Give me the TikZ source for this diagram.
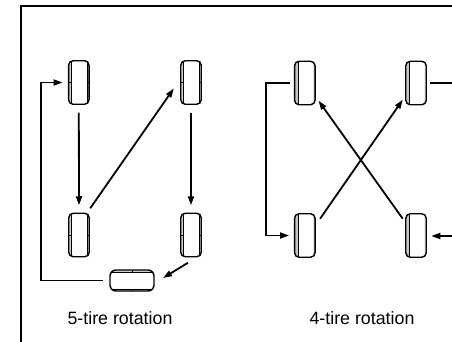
\documentclass[tikz,border=0pt]{standalone}
\usepackage{fontspec}
\setmainfont{Liberation Sans}
\usetikzlibrary{arrows.meta}
\begin{document}
\begin{tikzpicture}[x=1pt,y=-1pt,
  conn/.style={line width=1.8pt},
  arr/.style={conn,-{Triangle[length=9pt,width=6pt]}},
  tirebase/.style={draw, line width=1.4pt, inner sep=0pt, outer sep=0pt, fill=white},
  tireA/.style={tirebase, rounded corners=4.5pt, minimum width=20.5pt, minimum height=43.5pt,
    path picture={
      \fill[gray!40] ([yshift=-2pt]path picture bounding box.south west) rectangle ([xshift=2.2pt,yshift=2pt]path picture bounding box.north west);
      \fill[gray!40] ([yshift=-2pt]path picture bounding box.south east) rectangle ([xshift=-2.2pt,yshift=2pt]path picture bounding box.north east);
      \draw[line width=0.5pt] ([xshift=2.2pt,yshift=-2pt]path picture bounding box.south west) -- ([xshift=2.2pt,yshift=2pt]path picture bounding box.north west);
      \draw[line width=0.5pt] ([xshift=-2.2pt,yshift=-2pt]path picture bounding box.south east) -- ([xshift=-2.2pt,yshift=2pt]path picture bounding box.north east);
      \draw[line width=0.8pt] (path picture bounding box.west) -- ++(2.2pt,0);
      \draw[line width=0.8pt] (path picture bounding box.east) -- ++(-2.2pt,0);
    }},
  tireB/.style={tirebase, rounded corners=4.5pt, minimum width=20.5pt, minimum height=43.5pt,
    path picture={
      \fill[gray!45] ([yshift=-2pt]path picture bounding box.south west) rectangle ([xshift=3.6pt,yshift=2pt]path picture bounding box.north west);
      \draw[line width=0.5pt] ([xshift=3.6pt,yshift=-2pt]path picture bounding box.south west) -- ([xshift=3.6pt,yshift=2pt]path picture bounding box.north west);
      \fill[gray!35] ([yshift=-2pt]path picture bounding box.south east) rectangle ([xshift=-1.6pt,yshift=2pt]path picture bounding box.north east);
    }},
  spare/.style={tirebase, rounded corners=6pt, minimum width=44pt, minimum height=21pt,
    path picture={
      \fill[gray!40] ([xshift=-2pt]path picture bounding box.north west) rectangle ([xshift=2pt,yshift=-2.2pt]path picture bounding box.north east);
      \fill[gray!40] ([xshift=-2pt]path picture bounding box.south west) rectangle ([xshift=2pt,yshift=2.2pt]path picture bounding box.south east);
      \draw[line width=0.5pt] ([xshift=-2pt,yshift=-2.2pt]path picture bounding box.north west) -- ([xshift=2pt,yshift=-2.2pt]path picture bounding box.north east);
      \draw[line width=0.5pt] ([xshift=-2pt,yshift=2.2pt]path picture bounding box.south west) -- ([xshift=2pt,yshift=2.2pt]path picture bounding box.south east);
      \draw[line width=0.8pt] (path picture bounding box.north) -- ++(0,-2.2pt);
      \draw[line width=0.8pt] (path picture bounding box.south) -- ++(0,2.2pt);
    }},
  lab/.style={font=\fontsize{17.8}{20}\selectfont, inner sep=0pt, anchor=base}
]
\useasboundingbox (0,0) rectangle (452,342);
\clip (0,0) rectangle (452,342);
\fill[white] (0,0) rectangle (452,342);

% frame
\draw[line width=2.2pt] (21,350) -- (21,5.7) -- (460,5.7);

% 5-tire rotation
\node[tireA] (tl5) at (78.8,82.5) {};
\node[tireA] (tr5) at (191,82.5) {};
\node[tireA] (bl5) at (79,235) {};
\node[tireA] (br5) at (191,235) {};
\node[spare] (sp) at (132,280.5) {};

\draw[arr, shorten <=7pt, shorten >=6pt] (sp.west) -- ++(-69,0) |- (tl5.west);
\draw[arr, shorten <=8.5pt, shorten >=8pt] (tl5.south) -- (bl5.north);
\draw[arr, shorten <=8.5pt, shorten >=8pt] (tr5.south) -- (br5.north);
\draw[arr] ([shift={(1,-5)}]bl5.north east) -- ([shift={(-7,6)}]tr5.west);
\draw[arr] ([shift={(-3,6)}]br5.south) -- ([shift={(9,-2.5)}]sp.east);

\node[lab] (lab5) at (120,324.5) {5-tire rotation};

% 4-tire rotation
\node[tireB] (tl4) at (304.8,83) {};
\node[tireB] (tr4) at (416,83) {};
\node[tireB] (bl4) at (304.8,235.5) {};
\node[tireB] (br4) at (416,235.5) {};

\coordinate (rtop) at (460,83);
\coordinate (rbot) at (460,236);

\draw[arr, shorten <=4.5pt, shorten >=5.5pt] (tl4.west) -- ++(-28.5,0) |- (bl4.west);
\draw[conn, shorten <=4pt] (tr4.east) -- (rtop);
\draw[arr, shorten >=5pt] (rbot) -- (br4.east |- rbot);
\draw[arr] ([shift={(5,5)}]bl4.north east) -- ([shift={(-3,-5)}]tr4.south west);
\draw[arr] ([shift={(-3,5)}]br4.north west) -- ([shift={(3.5,-4)}]tl4.south east);

\node[lab] (lab4) at (362,324.5) {4-tire rotation};
\end{tikzpicture}
\end{document}
